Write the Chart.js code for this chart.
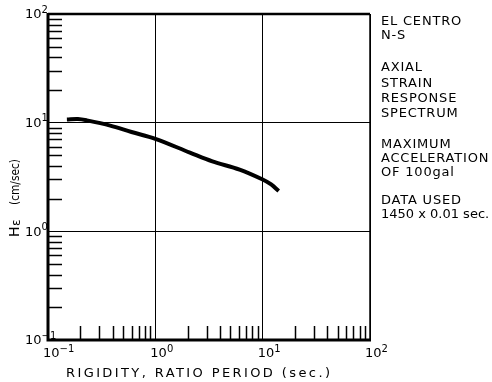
<!DOCTYPE html>
<html>
<head>
<meta charset="utf-8">
<script src="https://cdn.jsdelivr.net/npm/chart.js@4.4.0/dist/chart.umd.min.js"></script>
<style>
  html, body { margin: 0; padding: 0; background: #fff; }
  #wrap { width: 492px; height: 382px; position: relative; }
</style>
</head>
<body>
<div id="wrap"><canvas id="spectrum" width="492" height="382"></canvas></div>
<script>
// values
const periods = [0.15, 0.19, 0.23, 0.38, 0.6, 1.0, 2.1, 3.4, 6.1, 10, 12, 14.1]
const heValues = [10.7, 10.8, 10.5, 9.4, 8.2, 7.1, 5.3, 4.4, 3.7, 3.0, 2.7, 2.35]
const decades = [0.1, 1, 10, 100]
const exponents = ['-1', '0', '1', '2']
const sideNotes = [
  ['EL CENTRO', 'N-S'],
  ['AXIAL', 'STRAIN', 'RESPONSE', 'SPECTRUM'],
  ['MAXIMUM', 'ACCELERATION', 'OF 100gal'],
  ['DATA USED', '1450 x 0.01 sec.']
]
const xTitle = 'RIGIDITY, RATIO PERIOD (sec.)'
const yTitle = '(cm/sec)'

const FONT = '"DejaVu Sans", sans-serif'

// power of ten label: "10" then a raised exponent
function drawPow(ctx, x, y, exp) {
  ctx.font = '13px ' + FONT
  ctx.textAlign = 'left'
  ctx.textBaseline = 'middle'
  ctx.fillText('10', x, y)
  const w = ctx.measureText('10').width
  ctx.font = '10px ' + FONT
  ctx.fillText(exp.replace('-', '\u2212'), x + w, y - 5)
}

// minor ticks pointing inward, the frame, labels and the side notes
const frame = {
  id: 'frame',
  afterDraw(chart) {
    const {ctx, chartArea: a, scales} = chart
    const x = scales.x, y = scales.y
    ctx.save()
    ctx.strokeStyle = '#000'
    ctx.lineWidth = 1.5
    for (let d = 0; d < 3; d++) {
      for (let m = 2; m <= 9; m++) {
        const v = decades[d] * m
        const py = Math.round(y.getPixelForValue(v)) + 0.5
        ctx.beginPath(); ctx.moveTo(a.left, py); ctx.lineTo(a.left + 14, py); ctx.stroke()
        const px = Math.round(x.getPixelForValue(v)) + 0.5
        ctx.beginPath(); ctx.moveTo(px, a.bottom); ctx.lineTo(px, a.bottom - 14); ctx.stroke()
      }
    }
    // border
    ctx.lineWidth = 2.5
    ctx.beginPath(); ctx.moveTo(a.left, a.top); ctx.lineTo(a.right, a.top); ctx.stroke()
    ctx.lineWidth = 1.5
    ctx.beginPath(); ctx.moveTo(a.right, a.top); ctx.lineTo(a.right, a.bottom); ctx.stroke()
    ctx.lineWidth = 3
    ctx.beginPath(); ctx.moveTo(a.left, a.top - 1); ctx.lineTo(a.left, a.bottom); ctx.lineTo(a.right + 1, a.bottom); ctx.stroke()

    ctx.fillStyle = '#000'
    // tick labels
    decades.forEach((v, i) => {
      drawPow(ctx, 25, y.getPixelForValue(v) + 1, exponents[i])
      drawPow(ctx, x.getPixelForValue(v) - 5, a.bottom + 14, exponents[i])
    })

    // x title
    ctx.font = '13px ' + FONT
    ctx.letterSpacing = '2.4px'
    ctx.textAlign = 'left'
    ctx.textBaseline = 'middle'
    ctx.fillText(xTitle, 66, 374)
    ctx.letterSpacing = '0px'

    // y title
    ctx.save()
    ctx.translate(19, 237)
    ctx.rotate(-Math.PI / 2)
    ctx.textBaseline = 'alphabetic'
    ctx.font = '14px ' + FONT
    ctx.fillText('H', 0, 0)
    ctx.font = '12px ' + FONT
    ctx.fillText('\u03B5', 11, 1)
    ctx.font = '13px ' + FONT
    const tw = ctx.measureText(yTitle).width
    ctx.translate(32, 0)
    ctx.scale(46 / tw, 1)
    ctx.fillText(yTitle, 0, 0)
    ctx.restore()

    // side notes
    const rows = [[22, 36], [68, 84, 99, 114], [145, 159, 173], [201, 215]]
    ctx.font = '13px ' + FONT
    ctx.textAlign = 'left'
    ctx.textBaseline = 'middle'
    sideNotes.forEach((group, g) => {
      group.forEach((line, k) => {
        ctx.letterSpacing = /\d/.test(line) && g === 3 ? '0px' : '0.8px'
        ctx.fillText(line, 381, rows[g][k])
      })
    })
    ctx.restore()
  }
}

const ctx = document.getElementById('spectrum')
new Chart(ctx, {
  type: 'line',
  data: {
    datasets: [{
      data: periods.map((p, i) => ({x: p, y: heValues[i]})),
      borderColor: '#000',
      borderWidth: 4,
      pointRadius: 0,
      tension: 0.35,
      fill: false
    }]
  },
  options: {
    responsive: false,
    animation: false,
    layout: {padding: {top: 14, right: 122, left: 0, bottom: 0}},
    plugins: {legend: {display: false}, tooltip: {enabled: false}},
    scales: {
      x: {
        type: 'logarithmic',
        min: 0.1, max: 100,
        afterBuildTicks: s => { s.ticks = decades.map(v => ({value: v})) },
        afterFit: s => { s.height = 42 },
        grid: {color: '#000', lineWidth: 1, drawTicks: false},
        border: {display: false},
        ticks: {display: false}
      },
      y: {
        type: 'logarithmic',
        min: 0.1, max: 100,
        afterBuildTicks: s => { s.ticks = decades.map(v => ({value: v})) },
        afterFit: s => { s.width = 48 },
        grid: {color: '#000', lineWidth: 1, drawTicks: false},
        border: {display: false},
        ticks: {display: false}
      }
    }
  },
  plugins: [frame]
})
</script>
</body>
</html>
